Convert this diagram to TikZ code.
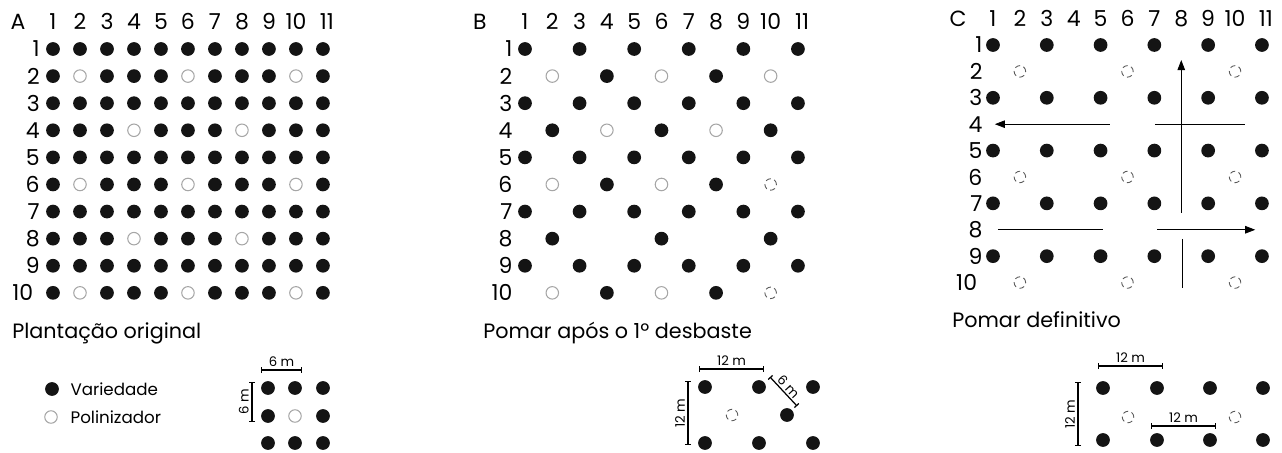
\documentclass[tikz,border=0pt]{standalone}
\usepackage{fontspec}
\setmainfont{Poppins}
\usetikzlibrary{arrows.meta,positioning}

\begin{document}
\begin{tikzpicture}[x=0.02cm,y=-0.02cm,font=\fontsize{12.5}{14}\selectfont,
  variety/.style={circle,fill=black!92,inner sep=0pt,minimum size=2.75mm},
  pollin/.style={circle,draw=black!35,line width=0.6pt,inner sep=0pt,minimum size=2.5mm},
  pollinx/.style={circle,draw=black!65,densely dashed,line width=0.5pt,inner sep=0pt,minimum size=2.3mm},
  num/.style={inner sep=0pt},
  paneltitle/.style={anchor=west,inner sep=0pt,font=\fontsize{11.8}{13}\selectfont},
  legtext/.style={anchor=west,inner sep=0pt,font=\fontsize{9.5}{11}\selectfont},
  meas/.style={inner sep=1.5pt,font=\fontsize{7.5}{8}\selectfont},
  dimbar/.style={{Bar[width=1.2mm]}-{Bar[width=1.2mm]},line width=0.7pt},
  arr/.style={-{Triangle[length=2mm,width=1.5mm]},line width=0.5pt},
  guide/.style={line width=0.5pt}]
\useasboundingbox (0,0) rectangle (1282,453);

% A: plantacao original
\begin{scope}[shift={(26,21.9)},x=0.54cm,y=-0.542cm]
\node[num] (A) at (-0.3,0) {A};
\foreach \c in {1,...,11}{
  \pgfmathsetmacro\hx{\c+0.15*(\c==11)}
  \node[num] (A-c\c) at (\hx,0) {\c};
}
\foreach \r in {1,...,10}{
  \pgfmathsetmacro\lx{\r==10 ? 0.28 : 0.52}
  \node[num,anchor=east] (A-r\r) at (\lx,\r) {\r};
  \foreach \c in {1,...,11}{
    \pgfmathtruncatemacro\pol{iseven(\r)&&iseven(\c)&&(mod(\r+\c,4)==0)}
    \ifnum\pol=1 \node[pollin] (A-\r-\c) at (\c,\r) {};
    \else \node[variety] (A-\r-\c) at (\c,\r) {};\fi
  }
}
\end{scope}

% B: pomar apos o 1o desbaste
\begin{scope}[shift={(497.7,21.9)},x=0.546cm,y=-0.542cm]
\node[num] (B) at (-0.65,0) {B};
\foreach \c in {1,...,11}{
  \pgfmathsetmacro\hx{\c+0.15*(\c==11)}
  \node[num] (B-c\c) at (\hx,0) {\c};
}
\foreach \r in {1,...,10}
  \node[num,anchor=east] (B-r\r) at (0.55,\r) {\r};
\foreach \r in {1,3,...,9}
  \foreach \c in {1,3,...,11}
    \node[variety] (B-\r-\c) at (\c,\r) {};
\foreach \r/\c in {2/4,2/8,4/2,4/6,4/10,6/4,6/8,8/2,8/6,8/10,10/4,10/8}
  \node[variety] (B-\r-\c) at (\c,\r) {};
\foreach \r/\c in {2/2,2/6,2/10,4/4,4/8,6/2,6/6,10/2,10/6}
  \node[pollin] (B-\r-\c) at (\c,\r) {};
\foreach \r/\c in {6/10,10/10}
  \node[pollinx] (B-\r-\c) at (\c,\r) {};
\end{scope}

% C: pomar definitivo
\begin{scope}[shift={(966.1,18.6)},x=0.538cm,y=-0.528cm]
\node[num] (C) at (-0.3,0) {C};
\foreach \c in {1,...,11}{
  \pgfmathsetmacro\hx{\c+0.15*(\c==11)}
  \node[num] (C-c\c) at (\hx,0) {\c};
}
\foreach \r in {1,...,10}{
  \pgfmathsetmacro\lx{\r==10 ? 0.42 : 0.62}
  \node[num,anchor=east] (C-r\r) at (\lx,\r) {\r};
}
\foreach \r in {1,3,...,9}
  \foreach \c in {1,3,...,11}
    \node[variety] (C-\r-\c) at (\c,\r) {};
\foreach \r in {2,6,10}
  \foreach \c in {2,6,10}
    \node[pollinx] (C-\r-\c) at (\c,\r) {};
\coordinate (C-up1) at (8,7.36);
\coordinate (C-up2) at (8,1.57);
\coordinate (C-l1) at (5.35,4);
\coordinate (C-l2) at (1.07,4);
\coordinate (C-l3) at (7.02,4);
\coordinate (C-l4) at (10.37,4);
\coordinate (C-r1) at (1.18,8);
\coordinate (C-r2) at (5.09,8);
\coordinate (C-r3) at (7.1,8);
\coordinate (C-r4) at (10.75,8);
\coordinate (C-dn1) at (8.05,8.35);
\coordinate (C-dn2) at (8.05,10.2);
\draw[arr] (C-up1)--(C-up2);
\draw[arr] (C-l1)--(C-l2);
\draw[guide] (C-l3)--(C-l4);
\draw[guide] (C-r1)--(C-r2);
\draw[arr] (C-r3)--(C-r4);
\draw[guide] (C-dn1)--(C-dn2);
\end{scope}

% titles
\node[paneltitle] (A-title) at (12,333) {Plantação original};
\node[paneltitle] (B-title) at (483,333) {Pomar após o 1º desbaste};
\node[paneltitle] (C-title) at (952,320) {Pomar definitivo};

% legend
\node[variety] (leg-var) at (52,389) {};
\node[legtext,right=2.2mm of leg-var] (leg-var-t) {Variedade};
\node[pollin] (leg-pol) at (51,417) {};
\node[legtext,right=2.5mm of leg-pol] (leg-pol-t) {Polinizador};

% scale A
\foreach \j/\yy in {1/388,2/416,3/443}
  \foreach \i/\xx in {1/268,2/295,3/323}{
    \ifnum\i\j=22 \node[pollin] (sa-\j-\i) at (\xx,\yy) {};
    \else \node[variety] (sa-\j-\i) at (\xx,\yy) {};\fi
  }
\coordinate (sa-h1) at (261,370);
\coordinate (sa-h2) at (302,370);
\coordinate (sa-v1) at (252,422);
\coordinate (sa-v2) at (252,382);
\draw[dimbar] (sa-h1)--node[meas,above]{6 m}(sa-h2);
\draw[dimbar] (sa-v1)--node[meas,above,sloped]{6 m}(sa-v2);

% scale B
\foreach \xx/\k in {705/1,759/2,813/3}{
  \node[variety] (sb-t\k) at (\xx,387) {};
  \node[variety] (sb-b\k) at (\xx,443) {};
}
\node[pollinx] (sb-p) at (732,415) {};
\node[variety] (sb-m) at (787,415) {};
\coordinate (sb-h1) at (699,369);
\coordinate (sb-h2) at (764,369);
\coordinate (sb-v1) at (688,445);
\coordinate (sb-v2) at (688,381);
\coordinate (sb-d1) at (770,377);
\coordinate (sb-d2) at (797,406);
\draw[dimbar] (sb-h1)--node[meas,above]{12 m}(sb-h2);
\draw[dimbar] (sb-v1)--node[meas,above,sloped]{12 m}(sb-v2);
\draw[dimbar] (sb-d1)--node[meas,above,sloped,inner sep=0.8pt]{6 m}(sb-d2);

% scale C
\foreach \xx/\k in {1103/1,1157/2,1210/3,1263/4}{
  \node[variety] (sc-t\k) at (\xx,388) {};
  \node[variety] (sc-b\k) at (\xx,440) {};
}
\node[pollinx] (sc-p1) at (1128,417) {};
\node[pollinx] (sc-p2) at (1235,417) {};
\coordinate (sc-h1) at (1098,366);
\coordinate (sc-h2) at (1163,366);
\coordinate (sc-m1) at (1151,426);
\coordinate (sc-m2) at (1216,426);
\coordinate (sc-v1) at (1078,446);
\coordinate (sc-v2) at (1078,382);
\draw[dimbar] (sc-h1)--node[meas,above]{12 m}(sc-h2);
\draw[dimbar] (sc-m1)--node[meas,above]{12 m}(sc-m2);
\draw[dimbar] (sc-v1)--node[meas,above,sloped]{12 m}(sc-v2);
\end{tikzpicture}
\end{document}
